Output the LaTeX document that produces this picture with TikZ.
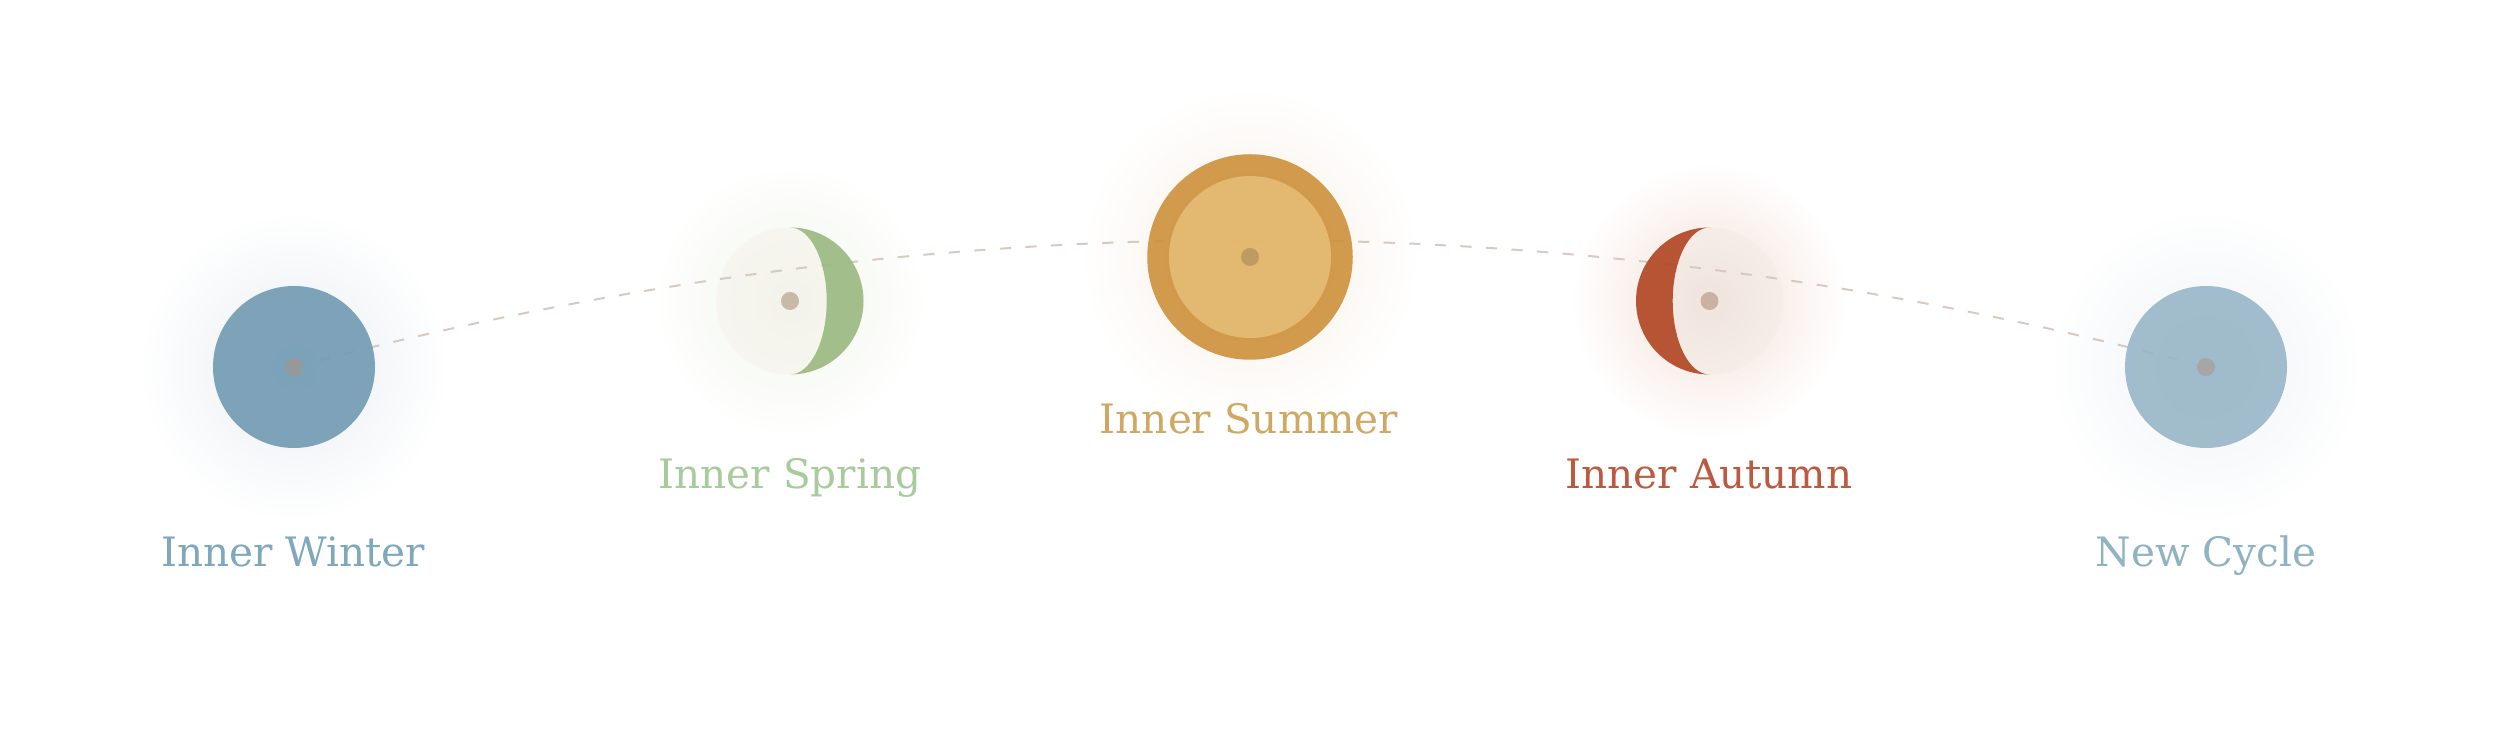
\documentclass[tikz,border=0pt]{standalone}
\usepackage{fontspec}
\setmainfont{DejaVu Serif}
\definecolor{gW}{HTML}{E8EDF2}
\definecolor{gS}{HTML}{F1F5EA}
\definecolor{gU}{HTML}{F7EFE4}
\definecolor{gA}{HTML}{F3DFD7}
\definecolor{gN}{HTML}{EEF2F5}
\definecolor{pS}{HTML}{F3F2EA}
\definecolor{pSe}{HTML}{F6F5EF}
\definecolor{pA}{HTML}{F0E4DC}
\definecolor{pAe}{HTML}{F5EDE8}
\pgfdeclareradialshading{glowW}{\pgfpoint{0bp}{0bp}}{color(0bp)=(gW); color(25bp)=(white); color(50bp)=(white)}
\pgfdeclareradialshading{glowS}{\pgfpoint{0bp}{0bp}}{color(0bp)=(gS); color(25bp)=(white); color(50bp)=(white)}
\pgfdeclareradialshading{glowU}{\pgfpoint{0bp}{0bp}}{color(0bp)=(gU); color(25bp)=(white); color(50bp)=(white)}
\pgfdeclareradialshading{glowA}{\pgfpoint{0bp}{0bp}}{color(0bp)=(gA); color(25bp)=(white); color(50bp)=(white)}
\pgfdeclareradialshading{glowN}{\pgfpoint{0bp}{0bp}}{color(0bp)=(gN); color(25bp)=(white); color(50bp)=(white)}
\pgfdeclareradialshading{paleS}{\pgfpoint{0bp}{0bp}}{color(0bp)=(pS); color(25bp)=(pSe); color(50bp)=(pSe)}
\pgfdeclareradialshading{paleA}{\pgfpoint{0bp}{0bp}}{color(0bp)=(pA); color(25bp)=(pAe); color(50bp)=(pAe)}
\definecolor{cW}{HTML}{719AB3}
\definecolor{cN}{HTML}{98B6C7}
\definecolor{cS}{HTML}{9AB980}
\definecolor{cU}{HTML}{CD903A}
\definecolor{cUi}{HTML}{E5BC76}
\definecolor{cA}{HTML}{B14420}
\definecolor{tW}{HTML}{7FA8BC}
\definecolor{tS}{HTML}{A8CB9C}
\definecolor{tU}{HTML}{CFA862}
\definecolor{tA}{HTML}{BC5A40}
\definecolor{tN}{HTML}{8FB3C2}
\definecolor{arcc}{HTML}{D8CAC0}
\definecolor{dW}{HTML}{96999A}
\definecolor{dN}{HTML}{A7A6A6}
\definecolor{dS}{HTML}{C9B9A8}
\definecolor{dU}{HTML}{C19A63}
\definecolor{dA}{HTML}{C9B2A3}
\tikzset{
  blob/.style={circle,inner sep=0pt,outer sep=0pt,draw=none,minimum size=#1},
  glow/.style 2 args={blob=#1,shade,shading=#2},
  disc/.style 2 args={blob=#1,fill=#2,fill opacity=.9},
  centredot/.style={blob=18pt,fill=#1},
  lbl/.style={anchor=base,inner sep=0pt,font=\fontsize{40.5pt}{48pt}\selectfont,text=#1},
  arcline/.style={draw=arcc,line width=2pt,dash pattern=on 11.2pt off 14.4pt},
  crescent/.style={fill=#1,fill opacity=.9,draw=none}
}
\begin{document}
\begin{tikzpicture}[x=1pt,y=1pt]
\useasboundingbox[fill=white] (0,0) rectangle (2500,735);
% glows
\node[glow={310pt}{glowW}] (gw) at (294,368) {};
\node[glow={276pt}{glowS}] (gs) at (790,434) {};
\node[glow={340pt}{glowU}] (gu) at (1250,478) {};
\node[glow={276pt}{glowA}] (ga) at (1709.5,434) {};
\node[glow={316pt}{glowN}] (gn) at (2206,368) {};
% pale moon bodies
\node[glow={147pt}{paleS}] (ps) at (790,434) {};
\node[glow={147pt}{paleA}] (pa) at (1709.5,434) {};
% arc
\coordinate (c1) at (931.3,537.3);
\coordinate (c2) at (1568.7,537.3);
\draw[arcline] (gw.center) .. controls (c1) and (c2) .. (gn.center);
% discs
\node[disc={162pt}{cW}] (dw) at (294,368) {};
\node[disc={162pt}{cN}] (dn) at (2206,368) {};
\node[disc={205.5pt}{cU}] (du) at (1250,478) {};
\node[disc={162pt}{cUi}] (dui) at (1250,478) {};
\path[crescent=cS] (790,507.5) arc[start angle=90,end angle=-90,radius=73.5]
  arc[start angle=-90,end angle=90,x radius=36.7,y radius=73.5] -- cycle;
\path[crescent=cA] (1709.5,507.5) arc[start angle=90,end angle=270,radius=73.5]
  arc[start angle=270,end angle=90,x radius=36.8,y radius=73.5] -- cycle;
% centre dots
\node[centredot=dW] (ow) at (294,368) {};
\node[centredot=dS] (os) at (790,434) {};
\node[centredot=dU] (ou) at (1250,478) {};
\node[centredot=dA] (oa) at (1709.5,434) {};
\node[centredot=dN] (on) at (2206,368) {};
% labels
\node[lbl=tW] (lw) at (293,168.5) {Inner Winter};
\node[lbl=tS] (ls) at (790,246) {Inner Spring};
\node[lbl=tU] (lu) at (1249,301) {Inner Summer};
\node[lbl=tA] (la) at (1709,246) {Inner Autumn};
\node[lbl=tN] (ln) at (2206,168.5) {New Cycle};
\end{tikzpicture}
\end{document}
